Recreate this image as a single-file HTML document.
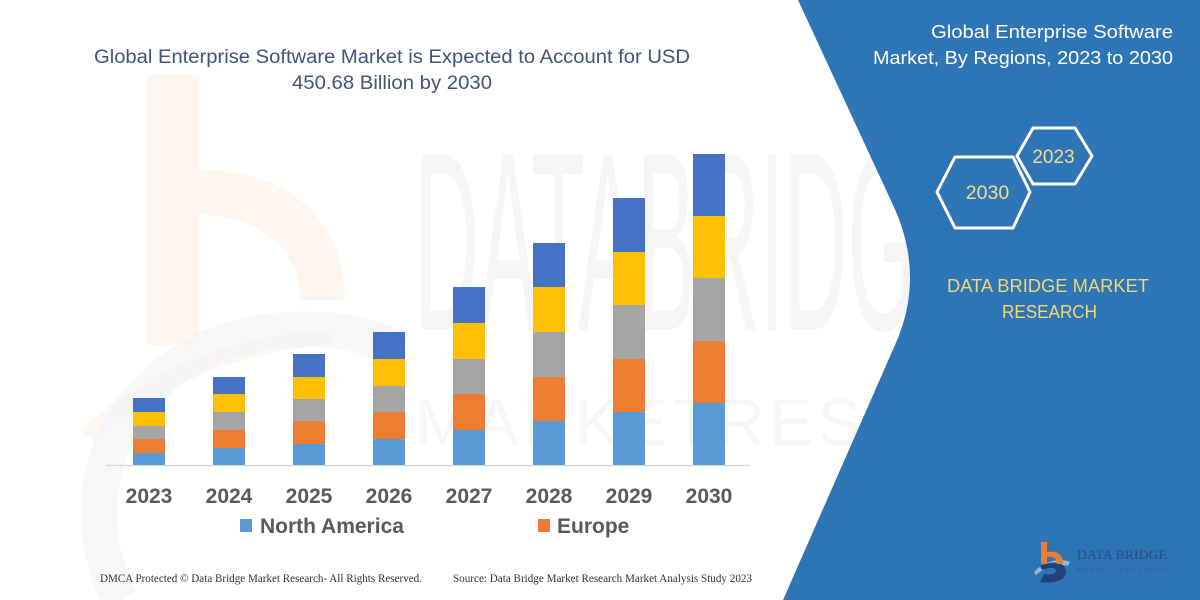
<!DOCTYPE html>
<html>
<head>
<meta charset="utf-8">
<style>
  html,body{margin:0;padding:0;background:#fff;}
  svg{display:block;}
</style>
</head>
<body>
<svg width="1200" height="600" viewBox="0 0 1200 600" xmlns="http://www.w3.org/2000/svg">
  <rect x="0" y="0" width="1200" height="600" fill="#ffffff"/>

  <!-- faint watermark: orange b -->
  <g opacity="0.5">
    <rect x="147" y="75" width="52" height="270" fill="#fdeee2"/>
    <path d="M199,170 C300,170 345,230 345,300 L300,300 C300,250 260,215 199,215 Z" fill="#fdeee2"/>
    <path d="M80,430 C150,370 230,335 330,330 L330,345 C240,350 160,385 95,440 Z" fill="#fdeee2"/>
  </g>
  <!-- faint watermark: blue-gray arc -->
  <path d="M120,600 C70,500 110,380 230,340 C300,320 360,330 400,350" fill="none" stroke="#f1f3f7" stroke-width="36" opacity="0.7"/>
  <!-- faint watermark text -->
  <text x="415" y="330" font-family="Liberation Sans, sans-serif" font-size="255" font-weight="normal" fill="#f5f5f5" textLength="560" lengthAdjust="spacingAndGlyphs">DATABRIDGE</text>
  <text x="415" y="445" font-family="Liberation Sans, sans-serif" font-size="66" fill="#f6f6f6" textLength="700" lengthAdjust="spacing">MARKETRESEARCH</text>

  <!-- Blue panel -->
  <path d="M798,0 L1200,0 L1200,600 L783,600 L895,345 Q926,276 893,205 Z" fill="#2e75b6"/>

  <!-- Title -->
  <text x="94" y="63" font-family="Liberation Sans, sans-serif" font-size="19" fill="#3f5479" textLength="596" lengthAdjust="spacingAndGlyphs">Global Enterprise Software Market is Expected to Account for USD</text>
  <text x="292" y="89" font-family="Liberation Sans, sans-serif" font-size="19" fill="#3f5479" textLength="200" lengthAdjust="spacingAndGlyphs">450.68 Billion by 2030</text>

  <!-- Axis line -->
  <line x1="106" y1="465.5" x2="750" y2="465.5" stroke="#d9d9d9" stroke-width="1.2"/>

  <!-- Bars -->
  <g>
    <rect x="133" y="398" width="32" height="14" fill="#4472c4"/>
    <rect x="133" y="412" width="32" height="14" fill="#ffc000"/>
    <rect x="133" y="426" width="32" height="13" fill="#a5a5a5"/>
    <rect x="133" y="439" width="32" height="14" fill="#ed7d31"/>
    <rect x="133" y="453" width="32" height="12" fill="#5b9bd5"/>

    <rect x="213" y="377" width="32" height="17" fill="#4472c4"/>
    <rect x="213" y="394" width="32" height="18" fill="#ffc000"/>
    <rect x="213" y="412" width="32" height="18" fill="#a5a5a5"/>
    <rect x="213" y="430" width="32" height="18" fill="#ed7d31"/>
    <rect x="213" y="448" width="32" height="17" fill="#5b9bd5"/>

    <rect x="293" y="354" width="32" height="23" fill="#4472c4"/>
    <rect x="293" y="377" width="32" height="22" fill="#ffc000"/>
    <rect x="293" y="399" width="32" height="22" fill="#a5a5a5"/>
    <rect x="293" y="421" width="32" height="23" fill="#ed7d31"/>
    <rect x="293" y="444" width="32" height="21" fill="#5b9bd5"/>

    <rect x="373" y="332" width="32" height="27" fill="#4472c4"/>
    <rect x="373" y="359" width="32" height="27" fill="#ffc000"/>
    <rect x="373" y="386" width="32" height="26" fill="#a5a5a5"/>
    <rect x="373" y="412" width="32" height="27" fill="#ed7d31"/>
    <rect x="373" y="439" width="32" height="26" fill="#5b9bd5"/>

    <rect x="453" y="287" width="32" height="36" fill="#4472c4"/>
    <rect x="453" y="323" width="32" height="36" fill="#ffc000"/>
    <rect x="453" y="359" width="32" height="35" fill="#a5a5a5"/>
    <rect x="453" y="394" width="32" height="36" fill="#ed7d31"/>
    <rect x="453" y="430" width="32" height="35" fill="#5b9bd5"/>

    <rect x="533" y="243" width="32" height="44" fill="#4472c4"/>
    <rect x="533" y="287" width="32" height="45" fill="#ffc000"/>
    <rect x="533" y="332" width="32" height="45" fill="#a5a5a5"/>
    <rect x="533" y="377" width="32" height="44" fill="#ed7d31"/>
    <rect x="533" y="421" width="32" height="44" fill="#5b9bd5"/>

    <rect x="613" y="198" width="32" height="54" fill="#4472c4"/>
    <rect x="613" y="252" width="32" height="53" fill="#ffc000"/>
    <rect x="613" y="305" width="32" height="54" fill="#a5a5a5"/>
    <rect x="613" y="359" width="32" height="53" fill="#ed7d31"/>
    <rect x="613" y="412" width="32" height="53" fill="#5b9bd5"/>

    <rect x="693" y="154" width="32" height="62" fill="#4472c4"/>
    <rect x="693" y="216" width="32" height="62" fill="#ffc000"/>
    <rect x="693" y="278" width="32" height="63" fill="#a5a5a5"/>
    <rect x="693" y="341" width="32" height="62" fill="#ed7d31"/>
    <rect x="693" y="403" width="32" height="62" fill="#5b9bd5"/>
  </g>

  <!-- Year labels -->
  <g font-family="Liberation Sans, sans-serif" font-size="21" font-weight="bold" fill="#595959" text-anchor="middle">
    <text x="149" y="503">2023</text>
    <text x="229" y="503">2024</text>
    <text x="309" y="503">2025</text>
    <text x="389" y="503">2026</text>
    <text x="469" y="503">2027</text>
    <text x="549" y="503">2028</text>
    <text x="629" y="503">2029</text>
    <text x="709" y="503">2030</text>
  </g>

  <!-- Legend -->
  <rect x="240" y="519" width="12" height="13" fill="#5b9bd5"/>
  <text x="260" y="533" font-family="Liberation Sans, sans-serif" font-size="21" font-weight="bold" fill="#595959">North America</text>
  <rect x="538" y="519" width="12" height="13" fill="#ed7d31"/>
  <text x="557" y="533" font-family="Liberation Sans, sans-serif" font-size="21" font-weight="bold" fill="#595959">Europe</text>

  <!-- Footer -->
  <text x="100" y="582" font-family="Liberation Serif, serif" font-size="11.5" fill="#333333" textLength="322" lengthAdjust="spacingAndGlyphs">DMCA Protected © Data Bridge Market Research-  All Rights Reserved.</text>
  <text x="453" y="582" font-family="Liberation Serif, serif" font-size="11.5" fill="#333333" textLength="299" lengthAdjust="spacingAndGlyphs">Source: Data Bridge Market Research  Market Analysis Study 2023</text>

  <!-- Right panel title -->
  <text x="931" y="38" font-family="Liberation Sans, sans-serif" font-size="18" fill="#ffffff" textLength="242" lengthAdjust="spacingAndGlyphs">Global Enterprise Software</text>
  <text x="873" y="64" font-family="Liberation Sans, sans-serif" font-size="18" fill="#ffffff" textLength="300" lengthAdjust="spacingAndGlyphs">Market, By Regions, 2023 to 2030</text>

  <!-- Hexagons -->
  <polygon points="1017,156 1033,128 1075,128 1092,156 1075,184 1033,184" fill="none" stroke="#ffffff" stroke-width="3" stroke-linejoin="round"/>
  <polygon points="937,192 955,157 1013,157 1030,192 1013,228 955,228" fill="none" stroke="#ffffff" stroke-width="3" stroke-linejoin="round"/>
  <text x="1053.5" y="163" font-family="Liberation Sans, sans-serif" font-size="19" fill="#f0e08c" text-anchor="middle">2023</text>
  <text x="987.5" y="199" font-family="Liberation Sans, sans-serif" font-size="19.5" fill="#f0e08c" text-anchor="middle">2030</text>

  <!-- DATA BRIDGE MARKET RESEARCH -->
  <text x="947" y="292" font-family="Liberation Sans, sans-serif" font-size="18" fill="#f2d877" textLength="202" lengthAdjust="spacingAndGlyphs">DATA BRIDGE MARKET</text>
  <text x="1002" y="318" font-family="Liberation Sans, sans-serif" font-size="18" fill="#f2d877" textLength="95" lengthAdjust="spacingAndGlyphs">RESEARCH</text>

  <!-- Logo -->
  <g>
    <path d="M1034,572 C1045,560 1062,558 1070,562 L1068,566 C1060,563 1046,566 1036,575 Z" fill="#ffffff" opacity="0.5"/>
    <path d="M1040,566 C1052,560 1066,562 1066,572 C1066,581 1052,584 1040,582 L1044,574 C1050,575 1056,574 1056,571 C1056,567 1050,567 1042,570 Z" fill="#22417a"/>
    <rect x="1041" y="542" width="6" height="22" fill="#ed7d31"/>
    <path d="M1047,552 C1058,550 1064,556 1063,564 L1057,564 C1057,558 1053,556 1047,557 Z" fill="#ed7d31"/>
    <text x="1077" y="559" font-family="Liberation Serif, serif" font-size="13" fill="#2c4a80" textLength="90" lengthAdjust="spacingAndGlyphs">DATA BRIDGE</text>
    <text x="1077" y="571" font-family="Liberation Sans, sans-serif" font-size="5" fill="#3a5a90" textLength="90" lengthAdjust="spacing">MARKET RESEARCH</text>
  </g>
</svg>
</body>
</html>
